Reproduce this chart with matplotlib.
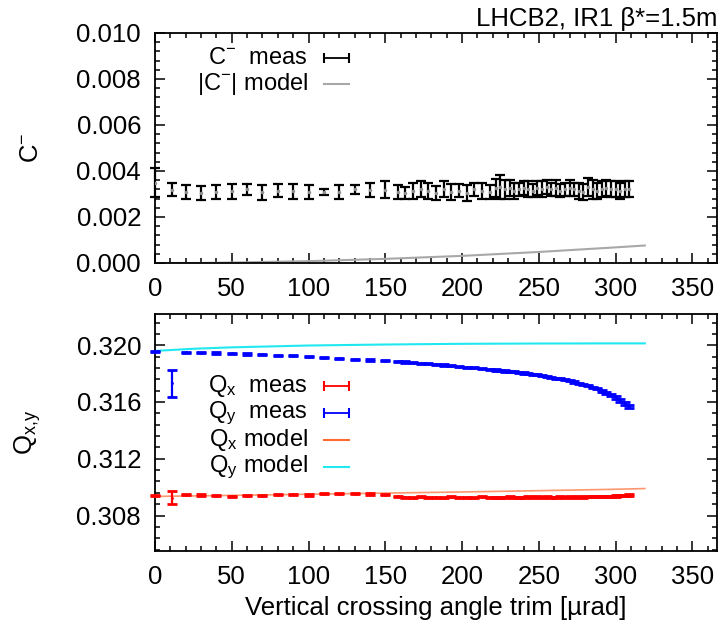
import matplotlib
matplotlib.use("Agg")
import matplotlib.pyplot as plt
from matplotlib.ticker import MultipleLocator, FormatStrFormatter

plt.rcParams['font.family'] = ['Liberation Sans', 'DejaVu Sans']
plt.rcParams['mathtext.fontset'] = 'custom'
plt.rcParams['mathtext.rm'] = 'Liberation Sans'
plt.rcParams['mathtext.it'] = 'Liberation Sans:italic'
plt.rcParams['mathtext.bf'] = 'Liberation Sans:bold'

# crossing angle trim [urad]
trim = [0, 11, 20, 30, 40, 50, 60, 70, 80, 90, 100, 110, 120, 130, 140, 150,
        158, 163, 168, 173, 178, 183, 188, 193, 198, 203, 208, 213, 218,
        222, 225, 228, 231, 234, 237, 240, 243, 246, 249, 252, 255, 258, 261,
        264, 267, 270, 273, 276, 279, 282, 285, 288, 291, 294, 297, 300, 303,
        306, 309]

# C- measured (x 1e-3)
c_meas = [3.50, 3.18, 3.10, 3.05, 3.10, 3.12, 3.20, 3.07, 3.15, 3.12, 3.10, 3.08, 3.10, 3.20, 3.18, 3.18,
          3.10, 3.05, 3.15, 3.20, 3.15, 3.05, 3.20, 3.10, 3.15, 3.05, 3.20, 3.15, 3.10,
          3.25, 3.30, 3.20, 3.25, 3.15, 3.20, 3.25, 3.20, 3.15, 3.25, 3.20, 3.30, 3.20, 3.25,
          3.15, 3.20, 3.25, 3.20, 3.15, 3.10, 3.30, 3.20, 3.15, 3.20, 3.25, 3.20, 3.20, 3.15,
          3.20, 3.20]
c_err = [0.62, 0.28, 0.30, 0.30, 0.30, 0.32, 0.25, 0.33, 0.30, 0.32, 0.30, 0.12, 0.30, 0.20, 0.32, 0.37,
         0.30, 0.25, 0.35, 0.35, 0.35, 0.30, 0.35, 0.35, 0.30, 0.35, 0.30, 0.35, 0.30,
         0.40, 0.52, 0.40, 0.35, 0.35, 0.30, 0.30, 0.35, 0.30, 0.30, 0.35, 0.30, 0.30, 0.35,
         0.30, 0.30, 0.35, 0.30, 0.35, 0.35, 0.40, 0.40, 0.35, 0.35, 0.35, 0.35, 0.35, 0.35,
         0.35, 0.35]

qy_meas = [0.31955, 0.31731, 0.31950, 0.31948, 0.31945, 0.31943, 0.31938, 0.31935, 0.31930, 0.31925,
           0.31919, 0.31913, 0.31907, 0.31900, 0.31896, 0.31891,
           0.31886, 0.31882, 0.31878, 0.31874, 0.31870, 0.31866, 0.31861, 0.31856, 0.31850, 0.31845,
           0.31840, 0.31834, 0.31829, 0.31825, 0.31822, 0.31818, 0.31815, 0.31812, 0.31808, 0.31804,
           0.31800, 0.31796, 0.31791, 0.31786, 0.31780, 0.31774, 0.31768, 0.31763, 0.31757, 0.31750,
           0.31741, 0.31733, 0.31724, 0.31714, 0.31703, 0.31692, 0.31678, 0.31664, 0.31648, 0.31632,
           0.31612, 0.31590, 0.31568]
qy_err = [0.00004, 0.00094] + [0.00004] * 50 + [0.00006, 0.00007, 0.00008, 0.00009, 0.00010, 0.00010, 0.00011]

qx_meas = [0.30940, 0.30925, 0.30947, 0.30945, 0.30940, 0.30935, 0.30940, 0.30940, 0.30947, 0.30950,
           0.30945, 0.30955, 0.30955, 0.30955, 0.30952, 0.30947,
           0.30935, 0.30930, 0.30925, 0.30932, 0.30928, 0.30930, 0.30926, 0.30933, 0.30928, 0.30930,
           0.30925, 0.30932, 0.30928, 0.30930, 0.30926, 0.30930, 0.30933, 0.30928, 0.30930, 0.30927,
           0.30931, 0.30928, 0.30932, 0.30929, 0.30931, 0.30928, 0.30930, 0.30933, 0.30929, 0.30931,
           0.30928, 0.30932, 0.30930, 0.30933, 0.30931, 0.30934, 0.30932, 0.30935, 0.30936, 0.30938,
           0.30940, 0.30942, 0.30945]
qx_err = [0.00004, 0.00045] + [0.00004] * 57

# models
model_x = [0, 25, 50, 100, 150, 200, 250, 300, 319]
c_model = [0.0, 0.0, 0.00002, 0.00008, 0.00018, 0.00031, 0.00048, 0.00068, 0.00076]
qx_model = [0.30935, 0.30938, 0.30942, 0.30950, 0.30958, 0.30966, 0.30975, 0.30985, 0.30990]
qy_model = [0.31960, 0.31975, 0.31985, 0.31998, 0.32005, 0.32010, 0.32012, 0.32013, 0.32013]

FS = 18.5
KFS = 17
fig = plt.figure(figsize=(7.21, 6.32), dpi=100)
ax1 = fig.add_axes([155/721, 1-263/632, 562/721, 230/632])
ax2 = fig.add_axes([155/721, 1-551/632, 562/721, 237/632])

c_meas_abs = [v * 1e-3 for v in c_meas]
c_err_abs = [v * 1e-3 for v in c_err]

ax1.plot(model_x, c_model, '-', color='#a8a8a8', lw=1.5, zorder=2)
eb = ax1.errorbar(trim, c_meas_abs, yerr=c_err_abs, fmt='.', color='black', ms=3,
                  mfc='#909090', mec='#909090', elinewidth=1.6, capsize=3.3, capthick=1.6, zorder=3)
for art in eb.lines[1] + eb.lines[2]:
    art.set_clip_on(False)
ax1.set_xlim(0, 366)
ax1.set_ylim(0, 0.010)
ax1.yaxis.set_major_locator(MultipleLocator(0.002))
ax1.yaxis.set_minor_locator(MultipleLocator(0.0004))
ax1.yaxis.set_major_formatter(FormatStrFormatter('%.3f'))
ax1.set_ylabel('C$^{-}$', fontsize=FS)
ax1.yaxis.set_label_coords(-0.2, 0.5)

ax2.plot(model_x, qy_model, '-', color='#20e8f0', lw=1.5, zorder=2)
ax2.plot(model_x, qx_model, '-', color='#ff6a30', lw=1.2, alpha=0.7, zorder=2)
for q, qe, col in ((qx_meas, qx_err, '#ff0000'), (qy_meas, qy_err, '#0000ff')):
    eb = ax2.errorbar(trim, q, yerr=qe, fmt='.', color=col, ms=2,
                      elinewidth=1.6, capsize=3.3, capthick=2.0, zorder=3)
    for art in eb.lines[1] + eb.lines[2]:
        art.set_clip_on(False)
ax2.set_xlim(0, 366)
ax2.set_ylim(0.3055, 0.3222)
ax2.set_yticks([0.308, 0.312, 0.316, 0.320])
ax2.yaxis.set_minor_locator(MultipleLocator(0.0008))
ax2.yaxis.set_major_formatter(FormatStrFormatter('%.3f'))
ax2.set_ylabel('Q$_{\\mathrm{x{,}y}}$', fontsize=FS)
ax2.yaxis.set_label_coords(-0.2, 0.5)
ax2.set_xlabel('Vertical crossing angle trim [\u00b5rad]', fontsize=FS)
ax2.xaxis.set_label_coords(0.5, -0.19)

for ax in (ax1, ax2):
    ax.xaxis.set_major_locator(MultipleLocator(50))
    ax.xaxis.set_minor_locator(MultipleLocator(10))
    ax.tick_params(which='both', direction='in', top=True, right=True,
                   labelsize=FS, pad=10, width=1.1)
    ax.tick_params(which='major', length=7)
    ax.tick_params(which='minor', length=3.5)
    for s in ax.spines.values():
        s.set_linewidth(1.3)

# gnuplot-like keys: text right-justified, sample on the right
def key_row(ax, yk, label, color, meas):
    ax.text(0.272, yk, label, transform=ax.transAxes, ha='right', va='center', fontsize=KFS)
    if meas:
        ax.plot([0.301, 0.345], [yk, yk], transform=ax.transAxes, color=color, lw=1.3,
                marker='|', ms=7, mew=1.5, clip_on=False)
    else:
        ax.plot([0.301, 0.345], [yk, yk], transform=ax.transAxes, color=color, lw=1.5, clip_on=False)

key_row(ax1, 0.891, 'C$^{-}$  meas', 'black', True)
key_row(ax1, 0.780, '|C$^{-}$| model', '#a8a8a8', False)
key_row(ax2, 0.696, 'Q$_{\\mathrm{x}}$  meas', '#ff0000', True)
key_row(ax2, 0.582, 'Q$_{\\mathrm{y}}$  meas', '#0000ff', True)
key_row(ax2, 0.468, 'Q$_{\\mathrm{x}}$ model', '#ff6a30', False)
key_row(ax2, 0.354, 'Q$_{\\mathrm{y}}$ model', '#20e8f0', False)

fig.text(718/721, 1-26/632, 'LHCB2, IR1 \u03b2*=1.5m', ha='right', va='baseline', fontsize=FS)

fig.savefig('out.png', dpi=100)
